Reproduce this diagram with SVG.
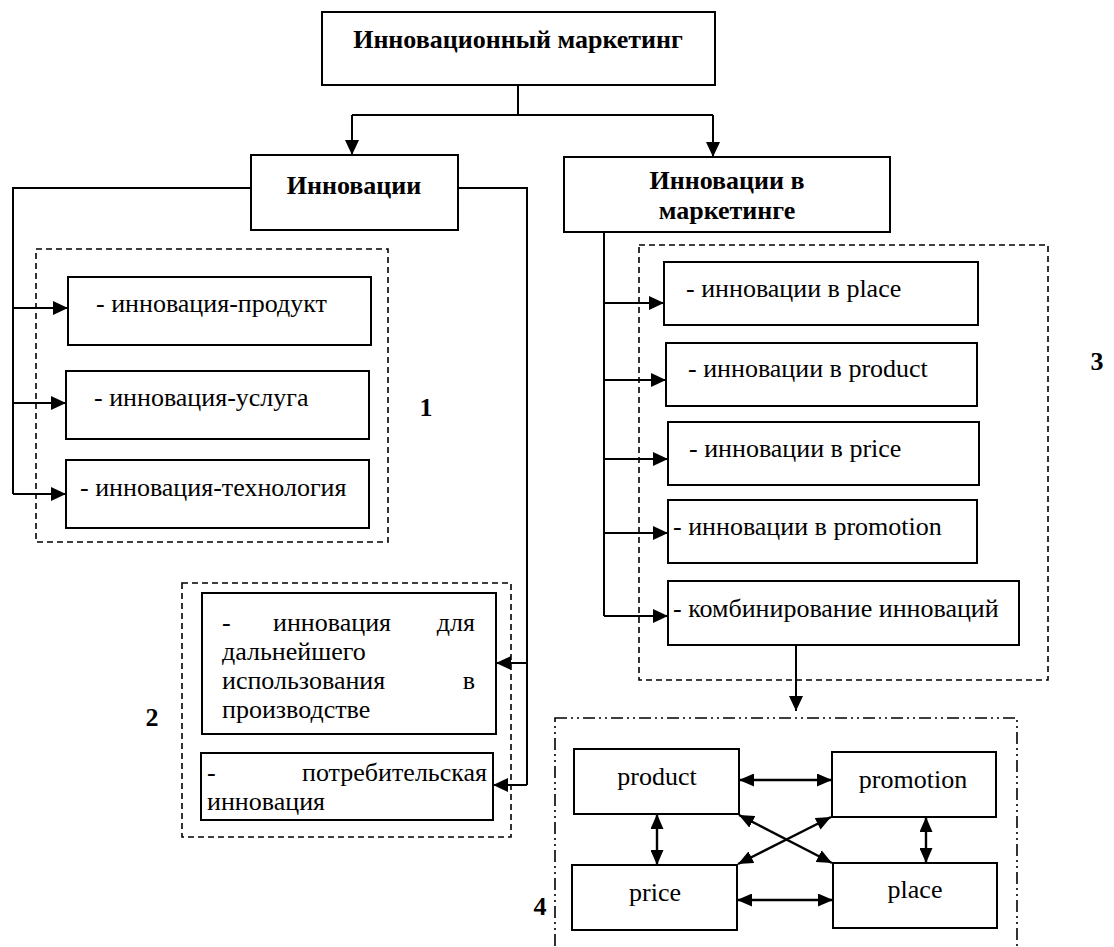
<svg xmlns="http://www.w3.org/2000/svg" width="1114" height="947" viewBox="0 0 1114 947">
<defs>
<marker id="ah" viewBox="0 0 15 14" refX="15" refY="7" markerWidth="15" markerHeight="14" markerUnits="userSpaceOnUse" orient="auto-start-reverse">
<path d="M0,0 L15,7 L0,14 z" fill="#000"/>
</marker>
<marker id="ah2" viewBox="0 0 15 13" refX="15" refY="6.5" markerWidth="15" markerHeight="13" markerUnits="userSpaceOnUse" orient="auto-start-reverse">
<path d="M0,0 L15,6.5 L0,13 z" fill="#000"/>
</marker>
<style>
.box{fill:#fff;stroke:#000;stroke-width:2}
.dash{fill:none;stroke:#000;stroke-width:1.6;stroke-dasharray:6,4}
.dashdot{fill:none;stroke:#000;stroke-width:1.6;stroke-dasharray:12,4,2,4,2,4}
.ln{fill:none;stroke:#000;stroke-width:2}
.arr{fill:none;stroke:#000;stroke-width:2;marker-end:url(#ah)}
.bi{fill:none;stroke:#000;stroke-width:2.4;marker-start:url(#ah2);marker-end:url(#ah2)}
.b{font-weight:bold}
.c{text-anchor:middle}
</style>
</defs>
<rect width="1114" height="947" fill="#fff"/>

<g font-family="Liberation Serif, Tinos, Times New Roman, DejaVu Serif, serif" font-size="26" fill="#000">
<g id="groups">
<rect class="dash" x="36" y="249" width="352" height="293"/>
<rect class="dash" x="639" y="245" width="409" height="435"/>
<rect class="dash" x="182" y="583" width="329" height="254"/>
<rect class="dashdot" x="555" y="718" width="462" height="240"/>
<text class="b c" x="426" y="416">1</text>
<text class="b c" x="152" y="726">2</text>
<text class="b c" x="1097" y="370">3</text>
<text class="b c" x="540" y="915">4</text>
</g>

<g id="connectors">
<path class="ln" d="M518,85 V115 M352,115 H713"/>
<path class="arr" d="M352,115 V155"/>
<path class="arr" d="M713,115 V157"/>
<path class="ln" d="M251,188 H13 V494"/>
<path class="arr" d="M13,308 H68"/>
<path class="arr" d="M13,403 H66"/>
<path class="arr" d="M13,494 H66"/>
<path class="ln" d="M458,188 H527 V785"/>
<path class="arr" d="M527,663 H496"/>
<path class="arr" d="M527,785 H493"/>
<path class="ln" d="M604,232 V616"/>
<path class="arr" d="M604,303 H664"/>
<path class="arr" d="M604,380 H666"/>
<path class="arr" d="M604,459 H668"/>
<path class="arr" d="M604,533 H668"/>
<path class="arr" d="M604,616 H668"/>
<path class="arr" d="M796,645 V711"/>
<path class="bi" d="M739,780 H832"/>
<path class="bi" d="M657,814 V865"/>
<path class="bi" d="M926,817 V863"/>
<path class="bi" d="M737,900 H833"/>
<path class="bi" d="M739,815 L832,863"/>
<path class="bi" d="M831,817 L738,864"/>
</g>

<g id="n-top"><rect class="box" x="322" y="12" width="393" height="73"/><text class="b c" x="518" y="48">Инновационный маркетинг</text></g>
<g id="n-innov"><rect class="box" x="251" y="155" width="207" height="75"/><text class="b c" x="354" y="194">Инновации</text></g>
<g id="n-innov-mkt"><rect class="box" x="564" y="157" width="326" height="75"/><text class="b c" x="727" y="189">Инновации в</text><text class="b c" x="727" y="219">маркетинге</text></g>

<g id="n-product1"><rect class="box" x="68" y="277" width="303" height="68"/><text x="96" y="312">- инновация-продукт</text></g>
<g id="n-service"><rect class="box" x="66" y="371" width="303" height="68"/><text x="94" y="406">- инновация-услуга</text></g>
<g id="n-tech"><rect class="box" x="66" y="460" width="303" height="68"/><text x="80" y="496">- инновация-технология</text></g>

<g id="n-further"><rect class="box" x="202" y="593" width="294" height="141"/>
<text x="222" y="631">-</text><text x="273" y="631">инновация</text><text x="475" y="631" text-anchor="end">для</text>
<text x="222" y="660">дальнейшего</text>
<text x="222" y="689">использования</text><text x="475" y="689" text-anchor="end">в</text>
<text x="222" y="718">производстве</text></g>
<g id="n-consumer"><rect class="box" x="201" y="753" width="292" height="67"/>
<text x="207" y="781">-</text><text x="487" y="781" text-anchor="end">потребительская</text>
<text x="207" y="810">инновация</text></g>

<g id="n-place"><rect class="box" x="664" y="262" width="314" height="63"/><text x="686" y="297">- инновации в place</text></g>
<g id="n-product2"><rect class="box" x="666" y="343" width="311" height="63"/><text x="688" y="377">- инновации в product</text></g>
<g id="n-price"><rect class="box" x="668" y="422" width="311" height="63"/><text x="689" y="457">- инновации в price</text></g>
<g id="n-promotion"><rect class="box" x="668" y="500" width="309" height="63"/><text x="673" y="535">- инновации в promotion</text></g>
<g id="n-combo"><rect class="box" x="668" y="581" width="351" height="64"/><text x="673" y="617">- комбинирование инноваций</text></g>

<g id="p-product"><rect class="box" x="574" y="749" width="165" height="65"/><text class="c" x="657" y="785">product</text></g>
<g id="p-promotion"><rect class="box" x="832" y="752" width="164" height="65"/><text class="c" x="913" y="788">promotion</text></g>
<g id="p-price"><rect class="box" x="572" y="865" width="165" height="65"/><text class="c" x="655" y="901">price</text></g>
<g id="p-place"><rect class="box" x="833" y="863" width="164" height="65"/><text class="c" x="915" y="898">place</text></g>
</g>
</svg>
